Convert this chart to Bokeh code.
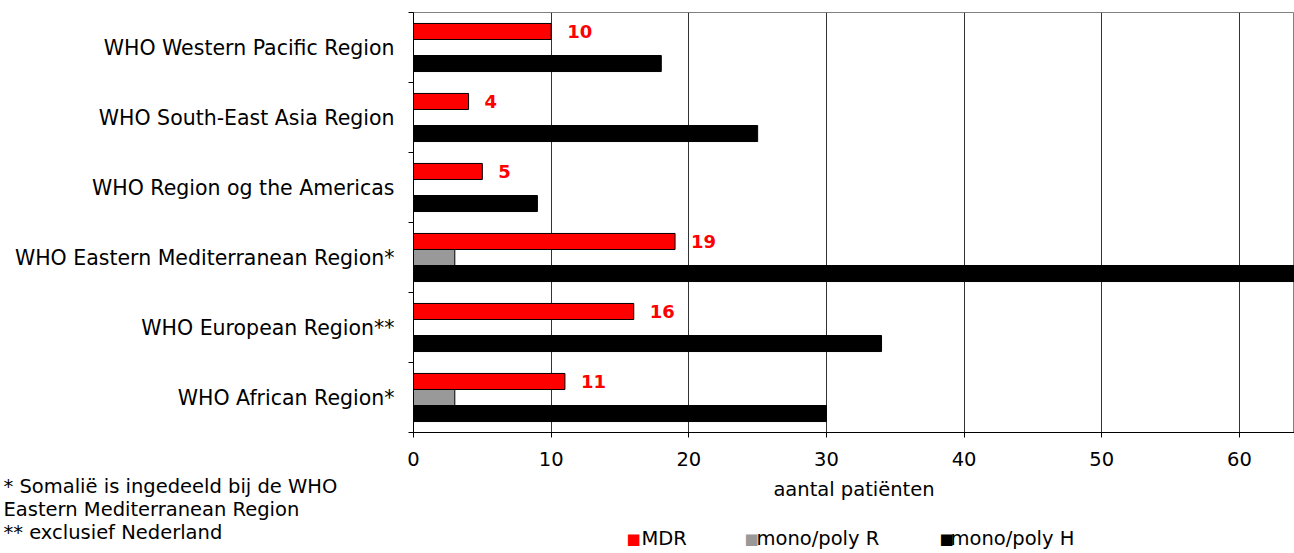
import numpy as np
from bokeh.plotting import figure
from bokeh.models import ColumnDataSource, FixedTicker, Range1d, Title
from bokeh.transform import dodge
from bokeh.core.properties import value
from bokeh.embed import file_html
from bokeh.resources import INLINE

# ---- data (bottom to top) ----
categories = [
    "WHO African Region*",
    "WHO European Region**",
    "WHO Eastern Mediterranean Region*",
    "WHO Region og the Americas",
    "WHO South-East Asia Region",
    "WHO Western Pacific Region",
]
mdr = [11, 16, 19, 5, 4, 10]
mono_poly_r = [3, np.nan, 3, np.nan, np.nan, np.nan]
mono_poly_h = [30, 34, 70, 9, 25, 18]
x_ticks = [0, 10, 20, 30, 40, 50, 60]
series_names = ["MDR", "mono/poly R", "mono/poly H"]
series_colors = ["#FF0000", "#999999", "#000000"]
x_label = "aantal patiënten"
footnotes = [
    "* Somalië is ingedeeld bij de WHO",
    "Eastern Mediterranean Region",
    "** exclusief Nederland",
]

FONT = "DejaVu Sans"
XMAX = 64
ypos = np.arange(len(categories)) + 0.5
src = ColumnDataSource(dict(
    y=ypos, mdr=mdr, r=mono_poly_r, h=mono_poly_h,
    mdr_label=[str(v) for v in mdr],
))

W, H = 1294, 553
BL, BT, BB = 413, 12, 121
p = figure(width=W, height=H, output_backend="svg", toolbar_location=None,
           x_range=Range1d(0, XMAX), y_range=Range1d(0, len(categories)),
           min_border_left=BL, min_border_right=0, min_border_top=BT,
           min_border_bottom=BB)
p.background_fill_color = "white"
p.border_fill_color = "white"
p.outline_line_color = "#808080"

bh = 0.229
for col, off, color in zip(["mdr", "r", "h"], [bh, 0, -bh], series_colors):
    p.hbar(y=dodge("y", off, range=p.y_range), right=col, left=0, height=bh, source=src,
           fill_color=color, line_color="black", line_width=1)

p.text(x="mdr", y=dodge("y", bh, range=p.y_range), text="mdr_label", source=src,
       x_offset=16, text_baseline="middle", text_align="left",
       text_color="#FF0000", text_font_style="bold", text_font_size="18px",
       text_font=value(FONT))

# x axis
p.xaxis.ticker = FixedTicker(ticks=x_ticks)
p.xaxis.axis_label = x_label
p.xaxis.axis_label_text_font = FONT
p.xaxis.axis_label_text_font_size = "19.5px"
p.xaxis.axis_label_text_font_style = "normal"
p.xaxis.axis_label_text_color = "black"
p.xaxis.axis_label_standoff = 9
p.xaxis.major_label_text_font = FONT
p.xaxis.major_label_text_font_size = "19.5px"
p.xaxis.major_label_text_color = "black"
p.xaxis.major_label_standoff = 14
p.xaxis.major_tick_out = 5
p.xaxis.major_tick_in = 0
p.xaxis.minor_tick_line_color = None
p.xaxis.axis_line_color = "black"
p.xaxis.major_tick_line_color = "black"

# y axis
p.yaxis.ticker = FixedTicker(ticks=list(ypos), minor_ticks=list(range(len(categories) + 1)))
p.yaxis.major_label_overrides = {float(y): c for y, c in zip(ypos, categories)}
p.yaxis.major_label_text_font = FONT
p.yaxis.major_label_text_font_size = "20.5px"
p.yaxis.major_label_text_color = "black"
p.yaxis.major_tick_line_color = None
p.yaxis.major_tick_out = 0
p.yaxis.major_label_standoff = 14
p.yaxis.minor_tick_out = 5
p.yaxis.minor_tick_in = 0
p.yaxis.minor_tick_line_color = "black"
p.yaxis.axis_line_color = "black"

p.xgrid.ticker = FixedTicker(ticks=x_ticks[1:])
p.xgrid.grid_line_color = "#333333"
p.ygrid.grid_line_color = None

# footnotes: multi-line title in the bottom panel (slot ~38px), shifted to the left edge;
# the trailing empty line lifts the visible lines above the slot centre
p.add_layout(Title(text="\n".join(footnotes) + "\n", align="left", vertical_align="middle",
                   offset=3 - BL, standoff=-58.7, text_font=FONT, text_font_size="19.5px",
                   text_font_style="normal", text_color="black", text_line_height=1.0),
             "below")

# legend row: square markers + labels as zero-height titles on one line
sq_x = [627, 745, 940]
lbl_x = [643, 758, 952]
for name, color, sx, lx in zip(series_names, series_colors, sq_x, lbl_x):
    p.add_layout(Title(text="\u25A0", align="left", vertical_align="middle",
                       offset=sx - BL - 1, standoff=-20.2, text_font=FONT,
                       text_font_size="15px", text_font_style="normal", text_color=color),
                 "below")
    p.add_layout(Title(text=name, align="left", vertical_align="middle",
                       offset=lx - BL - 2, standoff=-25.5, text_font=FONT,
                       text_font_size="19.5px", text_font_style="normal", text_color="black"),
                 "below")

open("out.html", "w").write(file_html(p, INLINE))
